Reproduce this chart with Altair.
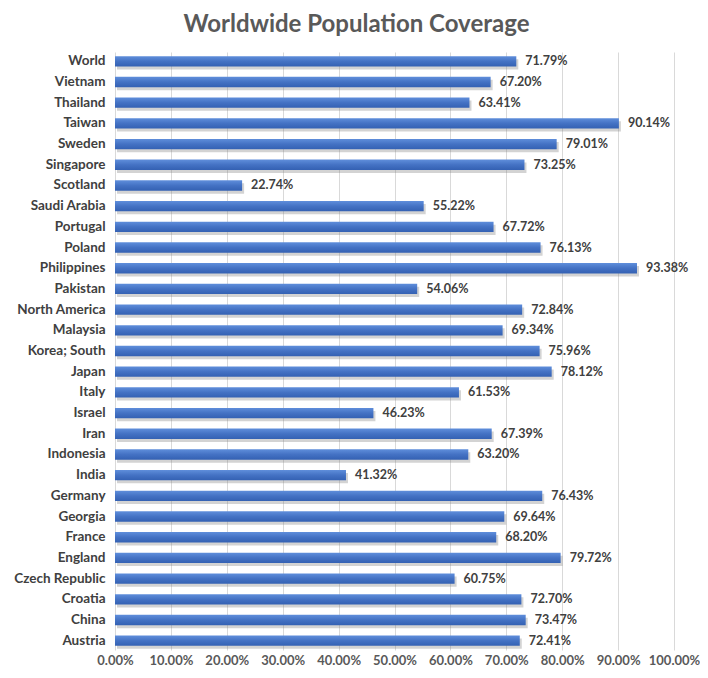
import altair as alt
import pandas as pd

countries = ["World", "Vietnam", "Thailand", "Taiwan", "Sweden", "Singapore", "Scotland",
             "Saudi Arabia", "Portugal", "Poland", "Philippines", "Pakistan", "North America",
             "Malaysia", "Korea; South", "Japan", "Italy", "Israel", "Iran", "Indonesia", "India",
             "Germany", "Georgia", "France", "England", "Czech Republic", "Croatia", "China", "Austria"]
coverage_pct = [71.79, 67.20, 63.41, 90.14, 79.01, 73.25, 22.74, 55.22, 67.72, 76.13, 93.38,
                54.06, 72.84, 69.34, 75.96, 78.12, 61.53, 46.23, 67.39, 63.20, 41.32, 76.43,
                69.64, 68.20, 79.72, 60.75, 72.70, 73.47, 72.41]
tick_values = [0.0, 0.1, 0.2, 0.3, 0.4, 0.5, 0.6, 0.7, 0.8, 0.9, 1.0]

df = pd.DataFrame({"country": countries, "value": [v / 100 for v in coverage_pct]})

FONT = "Lato"

y_enc = alt.Y("country:N", sort=countries, title=None,
              scale=alt.Scale(paddingInner=0.5, paddingOuter=0.2),
              axis=alt.Axis(labelFont=FONT, labelFontSize=13.5, labelFontWeight="bold",
                            labelColor="#404040", labelPadding=10, ticks=False, domain=False,
                            grid=False))
x_enc = alt.X("value:Q", title=None,
              scale=alt.Scale(domain=[0, 1]),
              axis=alt.Axis(values=tick_values, format=".2%", labelFont=FONT, labelFontSize=13,
                            labelFontWeight="bold", labelColor="#595959", labelPadding=4,
                            labelOverlap=False, labelFlush=False,
                            ticks=False, domain=False, grid=True, gridColor="#d9d9d9",
                            gridWidth=1))

base = alt.Chart(df)

shadow = base.mark_bar(color="#808080", opacity=0.35, xOffset=2, yOffset=3).encode(y=y_enc, x=x_enc)

bars = base.mark_bar(
    color=alt.Gradient(
        gradient="linear", x1=0, x2=0, y1=0, y2=1,
        stops=[alt.GradientStop(color="#5f8edb", offset=0),
               alt.GradientStop(color="#4472c4", offset=0.5),
               alt.GradientStop(color="#3461b3", offset=1)]
    )
).encode(y=y_enc, x=x_enc)

labels = base.mark_text(align="left", baseline="middle", dx=9, font=FONT, fontSize=12.5,
                        fontWeight="bold", color="#404040").encode(
    y=y_enc, x=x_enc, text=alt.Text("value:Q", format=".2%"))

chart = alt.layer(shadow, bars, labels).properties(
    width=559, height=598,
    autosize=alt.AutoSizeParams(type="none"),
    padding={"left": 107, "top": 44, "right": 26, "bottom": 20},
    title=alt.TitleParams("Worldwide Population Coverage", font=FONT, fontSize=24,
                          fontWeight="bold", color="#595959", anchor="middle", dx=-38,
                          offset=15),
).configure_view(stroke=None)

chart.save("out.html", embed_options={"renderer": "svg", "actions": False})
